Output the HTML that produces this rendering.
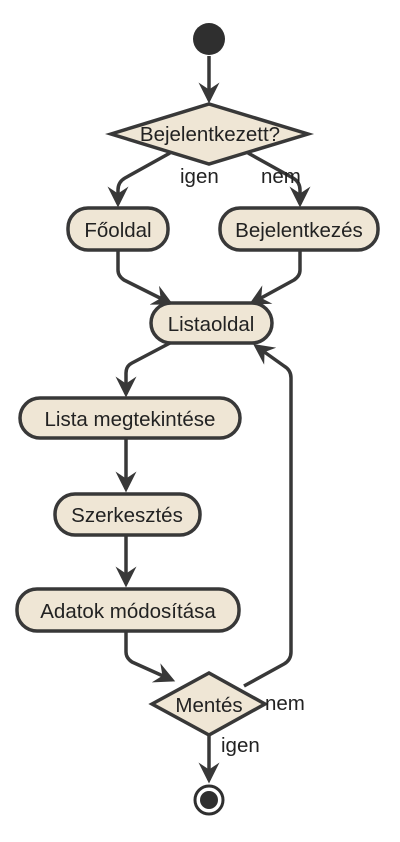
<!DOCTYPE html>
<html><head><style>body{margin:0;background:#fff}</style></head><body>
<svg width="400" height="837" xmlns="http://www.w3.org/2000/svg" font-family="Liberation Sans, sans-serif" font-size="20.5" fill="#222">
<defs><marker id="a" viewBox="0 0 12 12" refX="10" refY="6" markerWidth="6" markerHeight="6" orient="auto"><path d="M0,0 L12,6 L0,12 L4,6 Z" fill="#383838"/></marker></defs>
<g stroke="#383838" stroke-width="3.5" fill="none" stroke-linejoin="round">
<path d="M209,56 V100" marker-end="url(#a)"/>
<path d="M170,153 L125,178 Q118,182 118,190 V204" marker-end="url(#a)"/>
<path d="M248,153 L293,178 Q300,182 300,190 V204" marker-end="url(#a)"/>
<path d="M118,250 V270 Q118,276 124,280 L170,303" marker-end="url(#a)"/>
<path d="M300,250 V270 Q300,276 294,280 L252,303" marker-end="url(#a)"/>
<path d="M170,343 L132,363 Q126,366 126,373 V394" marker-end="url(#a)"/>
<path d="M126,438 V489" marker-end="url(#a)"/>
<path d="M126,535 V584" marker-end="url(#a)"/>
<path d="M126,631 V652 Q126,658 132,662 L172,680" marker-end="url(#a)"/>
<path d="M244,686 L284,664 Q291,660 291,652 V378 Q291,370 284,366 L256,346" marker-end="url(#a)"/>
<path d="M209,735 V780" marker-end="url(#a)"/>
</g>
<circle cx="209" cy="39" r="16" fill="#2f2f2f"/>
<g stroke="#383838" stroke-width="3.5" fill="#efe6d5">
<polygon points="111,134 209,104 308,134 209,164"/>
<rect x="68" y="208" width="100" height="42" rx="20"/>
<rect x="220" y="208" width="158" height="42" rx="20"/>
<rect x="151" y="303" width="121" height="40" rx="20"/>
<rect x="20" y="398" width="220" height="40" rx="20"/>
<rect x="55" y="494" width="145" height="41" rx="20"/>
<rect x="17" y="589" width="222" height="42" rx="20"/>
<polygon points="152,704 209,673 265,704 209,735"/>
</g>
<circle cx="209" cy="800" r="14" fill="#fff" stroke="#2f2f2f" stroke-width="3"/>
<circle cx="209" cy="800" r="9" fill="#2f2f2f"/>
<g text-anchor="middle">
<text x="210" y="141">Bejelentkezett?</text>
<text x="118" y="237">Főoldal</text>
<text x="299" y="237">Bejelentkezés</text>
<text x="211" y="331">Listaoldal</text>
<text x="130" y="426">Lista megtekintése</text>
<text x="127" y="522">Szerkesztés</text>
<text x="128" y="618">Adatok módosítása</text>
<text x="209" y="712">Mentés</text>
</g>
<text x="180" y="183">igen</text>
<text x="261" y="183">nem</text>
<text x="265" y="710">nem</text>
<text x="221" y="752">igen</text>
</svg>
</body></html>
